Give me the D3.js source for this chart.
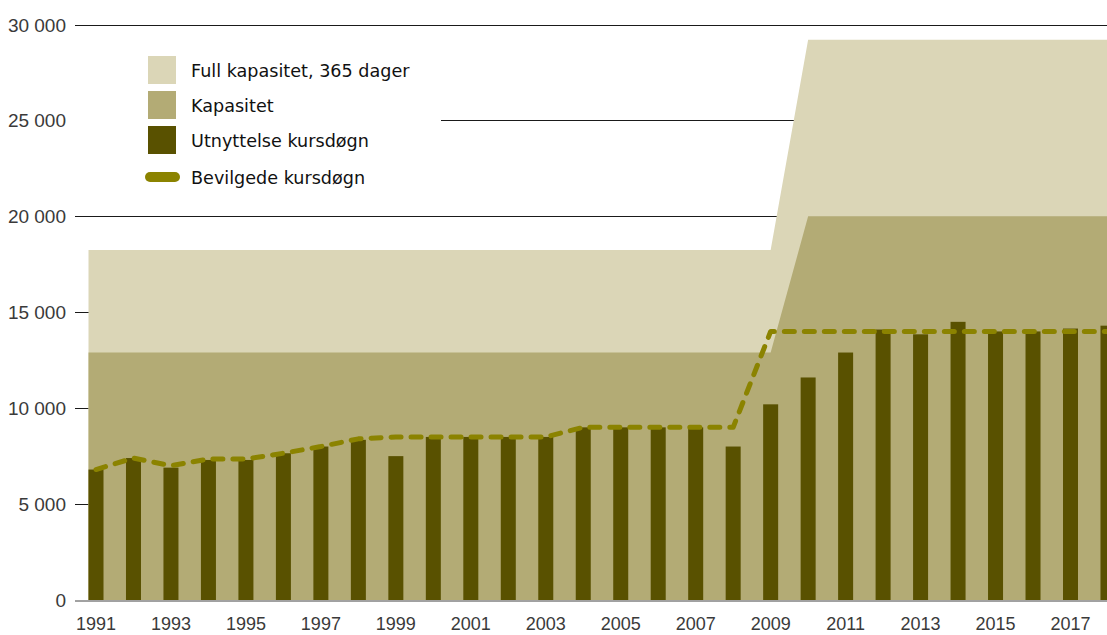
<!DOCTYPE html>
<meta charset="utf-8">
<html lang="no">
<head>
<style>
  body { margin: 0; background: #fff; }
  .tick-label { font-family: "Liberation Sans", Arial, sans-serif; font-size: 19px; fill: #3a3a3a; }
  .x-label { font-size: 18px; }
  .legend text { font-family: "DejaVu Sans", sans-serif; font-size: 17.6px; fill: #111; }
</style>
</head>
<body>
<div id="chart"></div>
<script src="https://d3js.org/d3.v7.min.js"></script>
<script>
// data
var years = d3.range(1991, 2019);
var used = [6800, 7400, 6900, 7300, 7300, 7650, 8000, 8350, 7500, 8500,
            8500, 8500, 8500, 9000, 9000, 9000, 9000, 8000, 10200, 11600,
            12900, 14100, 13850, 14500, 14000, 14000, 14150, 14300];
var granted = [6800, 7400, 7000, 7350, 7350, 7650, 8000, 8400, 8500, 8500,
               8500, 8500, 8500, 9000, 9000, 9000, 9000, 9000, 14000, 14000,
               14000, 14000, 14000, 14000, 14000, 14000, 14000, 14000];
var capacity = [12900, 12900, 12900, 12900, 12900, 12900, 12900, 12900, 12900, 12900,
                12900, 12900, 12900, 12900, 12900, 12900, 12900, 12900, 12900, 20000,
                20000, 20000, 20000, 20000, 20000, 20000, 20000, 20000];
var fullCapacity = [18250, 18250, 18250, 18250, 18250, 18250, 18250, 18250, 18250, 18250,
                    18250, 18250, 18250, 18250, 18250, 18250, 18250, 18250, 18250, 29200,
                    29200, 29200, 29200, 29200, 29200, 29200, 29200, 29200];
var yTicks = [0, 5000, 10000, 15000, 20000, 25000, 30000];
var xLabelYears = d3.range(1991, 2019, 2);
var legendItems = ["Full kapasitet, 365 dager", "Kapasitet", "Utnyttelse kursdøgn", "Bevilgede kursdøgn"];

var W = 1107, H = 635;
var axisLeft = 75, barW = 15;
var colLight = "#dbd6b7", colMid = "#b3ab75", colBar = "#595100", colLine = "#8b8300";

var svg = d3.select("#chart").append("svg")
    .attr("width", W).attr("height", H);

var x = d3.scaleLinear().domain([1991, 2017]).range([96, 1070.5]);
var y = d3.scaleLinear().domain([0, 30000]).range([600, 24.5]);

var fmt = function(v) { return d3.format(",")(v).replace(/,/g, " "); };

// grid lines
svg.append("g").selectAll("line")
  .data(yTicks.filter(function(d) { return d > 0; }))
  .enter().append("line")
    .attr("x1", axisLeft).attr("x2", W)
    .attr("y1", function(d) { return Math.round(y(d)) + 0.5; })
    .attr("y2", function(d) { return Math.round(y(d)) + 0.5; })
    .attr("stroke", "#1a1a1a").attr("stroke-width", 1);

// areas
function xa(i) {
  if (i === 0) return x(years[0]) - barW / 2;
  if (i === years.length - 1) return x(years[i]) + barW;
  return x(years[i]);
}
var idx = d3.range(years.length);
svg.append("path")
  .datum(idx)
  .attr("fill", colLight)
  .attr("d", d3.area().x(xa).y0(y(0)).y1(function(i) { return y(fullCapacity[i]); }));
svg.append("path")
  .datum(idx)
  .attr("fill", colMid)
  .attr("d", d3.area().x(xa).y0(y(0)).y1(function(i) { return y(capacity[i]); }));

// bars
svg.append("g").selectAll("rect")
  .data(idx)
  .enter().append("rect")
    .attr("x", function(i) { return x(years[i]) - barW / 2; })
    .attr("width", barW)
    .attr("y", function(i) { return y(used[i]); })
    .attr("height", function(i) { return y(0) - y(used[i]); })
    .attr("fill", colBar);

// dashed line
svg.append("path")
  .datum(idx)
  .attr("fill", "none")
  .attr("stroke", colLine)
  .attr("stroke-width", 5)
  .attr("stroke-linecap", "round")
  .attr("stroke-linejoin", "round")
  .attr("stroke-dasharray", "10 10")
  .attr("d", d3.line().x(function(i) { return x(years[i]); }).y(function(i) { return y(granted[i]); }));

// baseline
svg.append("line")
  .attr("x1", axisLeft).attr("x2", W)
  .attr("y1", y(0) + 1).attr("y2", y(0) + 1)
  .attr("stroke", "#444").attr("stroke-width", 1);

// y labels
svg.append("g").selectAll("text")
  .data(yTicks)
  .enter().append("text")
    .attr("class", "tick-label")
    .attr("x", 66)
    .attr("y", function(d) { return y(d) + 7; })
    .attr("text-anchor", "end")
    .text(fmt);

// x labels
svg.append("g").selectAll("text")
  .data(xLabelYears)
  .enter().append("text")
    .attr("class", "tick-label x-label")
    .attr("x", function(d) { return x(d); })
    .attr("y", 630)
    .attr("text-anchor", "middle")
    .text(function(d) { return d; });

// legend
svg.append("rect")
  .attr("x", axisLeft).attr("y", 40)
  .attr("width", 441 - axisLeft).attr("height", 160)
  .attr("fill", "#fff");

var lg = svg.append("g").attr("class", "legend");
var legendY = [70, 105, 140, 177];
var legendCol = [colLight, colMid, colBar];
legendItems.forEach(function(name, i) {
  if (i < 3) {
    lg.append("rect")
      .attr("x", 148).attr("y", legendY[i] - 14)
      .attr("width", 28).attr("height", 28)
      .attr("fill", legendCol[i]);
  } else {
    lg.append("line")
      .attr("x1", 150).attr("x2", 175)
      .attr("y1", legendY[i]).attr("y2", legendY[i])
      .attr("stroke", colLine).attr("stroke-width", 10)
      .attr("stroke-linecap", "round");
  }
  lg.append("text")
    .attr("x", 191)
    .attr("y", legendY[i] + 7)
    .text(name);
});
</script>
</body>
</html>
